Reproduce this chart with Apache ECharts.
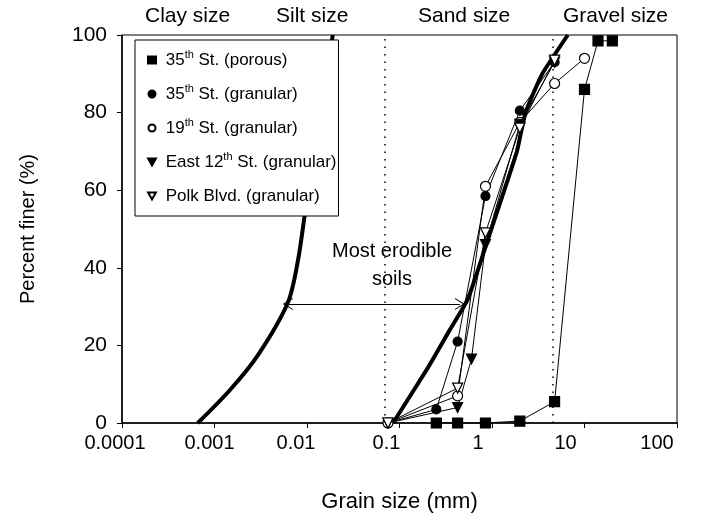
<!DOCTYPE html>
<html>
<head>
<meta charset="utf-8">
<script src="https://cdn.jsdelivr.net/npm/echarts@6/dist/echarts.min.js"></script>
<style>
  html, body { margin: 0; padding: 0; background: #fff; }
  #chart { width: 701px; height: 525px; }
</style>
</head>
<body>
<div id="chart"></div>
<script>
// Grain-size distribution curves (percent finer vs. grain size, log scale)
const xTickLabels = ['0.0001', '0.001', '0.01', '0.1', '1', '10', '100'];
const yTickLabels = ['0', '20', '40', '60', '80', '100'];
const zoneLabels = ['Clay size', 'Silt size', 'Sand size', 'Gravel size'];
const zoneBoundaries = [0.003, 0.075, 4.5];

// 35th St. (porous)
const size35Porous = [0.25, 0.425, 0.85, 2, 4.75, 10, 14, 20];
const finer35Porous = [0, 0, 0, 0.5, 5.5, 86, 98.5, 98.5];
// 35th St. (granular)
const size35Granular = [0.075, 0.25, 0.425, 0.85, 2, 4.75];
const finer35Granular = [0, 3.5, 21, 58.5, 80.5, 93];
// 19th St. (granular)
const size19Granular = [0.075, 0.425, 0.85, 2, 4.75, 10];
const finer19Granular = [0, 7, 61, 77.5, 87.5, 94];
// East 12th St. (granular)
const sizeEast12 = [0.075, 0.425, 0.6, 0.85, 2, 4.75];
const finerEast12 = [0, 4, 16.5, 46, 77, 93];
// Polk Blvd. (granular)
const sizePolk = [0.075, 0.425, 0.85, 2, 4.75];
const finerPolk = [0, 9, 49, 76, 93.5];

// Envelope of the most erodible soils
const envFineSize = [0.00066, 0.00147, 0.00295, 0.0062, 0.008, 0.0095, 0.013, 0.019];
const envFineFiner = [0, 8.5, 17.5, 31, 42, 54, 75, 100];
const envCoarseSize = [0.085, 0.2, 0.35, 0.55, 1.0, 1.86, 2.3, 3.5, 6.6];
const envCoarseFiner = [0, 14, 24, 32, 50.5, 70, 80, 90, 100];

// Arrow spanning the erodible band
const arrowFrom = [0.0062, 30.7];
const arrowTo = [0.45, 30.7];

const zip = (xs, ys) => xs.map((x, i) => [x, ys[i]]);

const FONT = 'Liberation Sans, Arial, sans-serif';
// per-label horizontal nudges of the tick labels
const labelShift = [14, 10, 22, 26, 28, 38, 40];

const richLabels = {};
xTickLabels.forEach((t, i) => {
  richLabels['t' + i] = { fontSize: 20, fontFamily: FONT, color: '#000', padding: [0, labelShift[i], 0, 0] };
});

const chart = echarts.init(document.getElementById('chart'));

const pointSeries = (name, xs, ys, symbol, size, filled) => ({
  name: name,
  type: 'line',
  data: zip(xs, ys),
  symbol: symbol,
  symbolSize: size,
  showAllSymbol: true,
  lineStyle: { color: '#000', width: 1 },
  itemStyle: { color: filled ? '#000' : '#fff', borderColor: '#000', borderWidth: 1.2 },
  emphasis: { disabled: true },
  z: 5
});

const legendNames = [
  '35th St. (porous)',
  '35th St. (granular)',
  '19th St. (granular)',
  'East 12th St. (granular)',
  'Polk Blvd. (granular)'
];
const downTriangle = 'path://M0,0 L10,0 L5,9 Z';
const legendIcons = ['rect', 'circle', 'circle', downTriangle, downTriangle];

const option = {
  animation: false,
  backgroundColor: '#fff',
  grid: { left: 122, right: 24, top: 35, bottom: 102, show: true, borderColor: '#000', borderWidth: 1 },
  xAxis: {
    type: 'log',
    logBase: 10,
    min: 0.0001,
    max: 100,
    splitNumber: 6,
    name: 'Grain size (mm)',
    nameLocation: 'middle',
    nameGap: 68,
    nameTextStyle: { fontSize: 22, fontFamily: FONT, color: '#000' },
    axisLine: { lineStyle: { color: '#000', width: 1.5 } },
    axisTick: { show: true, length: 5, lineStyle: { color: '#000' } },
    minorTick: { show: false },
    splitLine: { show: false },
    axisLabel: {
      margin: 10,
      formatter: (v) => {
        const i = Math.round(Math.log10(v)) + 4;
        return '{t' + i + '|' + xTickLabels[i] + '}';
      },
      rich: richLabels
    }
  },
  yAxis: {
    type: 'value',
    min: 0,
    max: 100,
    interval: 20,
    name: 'Percent finer (%)',
    nameLocation: 'middle',
    nameGap: 84,
    nameTextStyle: { fontSize: 20, fontFamily: FONT, color: '#000' },
    axisLine: { show: true, lineStyle: { color: '#000', width: 1.5 } },
    axisTick: { show: true, length: 5, lineStyle: { color: '#000' } },
    splitLine: { show: false },
    axisLabel: {
      fontSize: 21, fontFamily: FONT, color: '#000', margin: 15,
      formatter: (v) => yTickLabels[v / 20]
    }
  },
  legend: {
    data: legendNames.map((n, i) => ({ name: n, icon: legendIcons[i] })),
    orient: 'vertical',
    left: 135,
    top: 40,
    padding: [9, 2, 9, 12],
    itemGap: 12,
    itemWidth: 8,
    itemHeight: 7,
    backgroundColor: '#fff',
    borderColor: '#000',
    borderWidth: 1,
    borderRadius: 0,
    selectedMode: false,
    formatter: (n) => ' ' + n.replace(/(\d+)th/, '$1{sup|th}'),
    textStyle: {
      fontSize: 17, fontFamily: FONT, color: '#000', lineHeight: 22,
      rich: {
        sup: { fontSize: 11, fontFamily: FONT, color: '#000', verticalAlign: 'top', lineHeight: 22 }
      }
    }
  },
  graphic: [
    { type: 'text', left: 145, top: 6, style: { text: zoneLabels[0], font: '21px ' + FONT, fill: '#000' } },
    { type: 'text', left: 276, top: 6, style: { text: zoneLabels[1], font: '21px ' + FONT, fill: '#000' } },
    { type: 'text', left: 418, top: 6, style: { text: zoneLabels[2], font: '21px ' + FONT, fill: '#000' } },
    { type: 'text', left: 563, top: 6, style: { text: zoneLabels[3], font: '21px ' + FONT, fill: '#000' } },
    { type: 'text', x: 392, y: 241, style: { text: 'Most erodible', font: '20px ' + FONT, fill: '#000', align: 'center' } },
    { type: 'text', x: 392, y: 269, style: { text: 'soils', font: '20px ' + FONT, fill: '#000', align: 'center' } }
  ],
  series: [
    {
      name: 'envelope-fine',
      type: 'line',
      data: zip(envFineSize, envFineFiner),
      smooth: 0.3,
      symbol: 'none',
      lineStyle: { color: '#000', width: 4 },
      z: 2,
      markLine: {
        silent: true,
        symbol: 'none',
        label: { show: false },
        lineStyle: { color: '#000', type: [1.5, 6], width: 1.5 },
        data: zoneBoundaries.map((b) => ({ xAxis: b }))
      }
    },
    {
      name: 'envelope-coarse',
      type: 'line',
      data: zip(envCoarseSize, envCoarseFiner),
      smooth: 0.15,
      symbol: 'none',
      lineStyle: { color: '#000', width: 4 },
      z: 2,
      markLine: {
        silent: true,
        symbol: ['path://M0,12 L6,0 L12,12 L11,12 L6,2.5 L1,12 Z', 'path://M0,12 L6,0 L12,12 L11,12 L6,2.5 L1,12 Z'],
        symbolSize: [12, 10],
        label: { show: false },
        lineStyle: { color: '#000', type: 'solid', width: 1.2 },
        data: [[{ coord: arrowFrom }, { coord: arrowTo }]]
      }
    },
    pointSeries(legendNames[0], size35Porous, finer35Porous, 'rect', 10, true),
    pointSeries(legendNames[1], size35Granular, finer35Granular, 'circle', 9, true),
    pointSeries(legendNames[2], size19Granular, finer19Granular, 'circle', 10, false),
    pointSeries(legendNames[3], sizeEast12, finerEast12, 'triangle', 10, true),
    pointSeries(legendNames[4], sizePolk, finerPolk, 'triangle', 10, false)
  ]
};

// downward-pointing triangles for the two triangle series
option.series[5].symbolRotate = 180;
option.series[6].symbolRotate = 180;

chart.setOption(option);
</script>
</body>
</html>
